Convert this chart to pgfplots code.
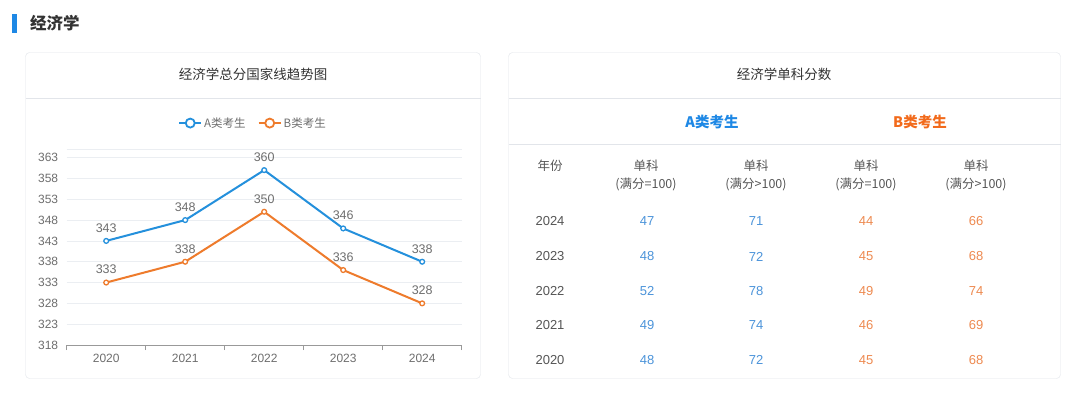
\documentclass[border=0pt]{standalone}
\usepackage{pgfplots}
\pgfplotsset{compat=1.18}
\usepackage{fontspec}
\setmainfont{Liberation Sans}
\newfontfamily\cjk{Noto Sans CJK SC}
\definecolor{ablue}{HTML}{2490DC}
\definecolor{borange}{HTML}{EE7B2C}
\definecolor{tblue}{HTML}{4C94DA}
\definecolor{torange}{HTML}{EE8A50}
\definecolor{hblue}{HTML}{1E88E5}
\definecolor{horange}{HTML}{F26A1B}
\definecolor{c333}{HTML}{333333}
\definecolor{c555}{HTML}{555555}
\definecolor{c666}{HTML}{6E6E6E}
\definecolor{axisgray}{HTML}{999999}
\definecolor{gridgray}{HTML}{EBEEF2}
\definecolor{cardborder}{HTML}{E2E5EA}
\pgfplotstableread{
x A B
0 343 333
1 348 338
2 360 350
3 346 336
4 338 328
}\totaldata
\begin{document}
\begin{tikzpicture}[x=1pt,y=1pt]
\fill[white] (0,0) rectangle (1080,-392);
\path[use as bounding box] (0,0) rectangle (1080,-392);
% page title
\fill[hblue] (12,-14) rectangle (17,-33);
\node[anchor=west, font=\cjk\bfseries\fontsize{16.5}{20}\selectfont, text=c333, inner sep=0pt] at (30,-23.5) {经济学};
% left card
\draw[cardborder, rounded corners=4pt, fill=white] (25.5,-52.5) rectangle (480.5,-378.5);
\draw[cardborder] (25.5,-98.5) -- (480.5,-98.5);
\node[font=\cjk\fontsize{13.5}{16}\selectfont, text=c333] at (253,-74.5) {经济学总分国家线趋势图};
% right card
\draw[cardborder, rounded corners=4pt, fill=white] (508.5,-52.5) rectangle (1060.5,-378.5);
\draw[cardborder] (508.5,-98.5) -- (1060.5,-98.5);
\draw[cardborder] (508.5,-144.5) -- (1060.5,-144.5);
\node[font=\cjk\fontsize{13.5}{16}\selectfont, text=c333] at (784,-74.5) {经济学单科分数};
\node[font=\cjk\bfseries\fontsize{14.5}{17}\selectfont, text=hblue] at (712,-121.5) {A类考生};
\node[font=\cjk\bfseries\fontsize{14.5}{17}\selectfont, text=horange] at (920,-121.5) {B类考生};
% column headers
\node[font=\cjk\fontsize{12.5}{15}\selectfont, text=c555] at (550,-166) {年份};
\foreach \cx/\lab in {646/{(满分=100)}, 756/{(满分>100)}, 866/{(满分=100)}, 976/{(满分>100)}}{
  \node[font=\cjk\fontsize{12.5}{15}\selectfont, text=c555] at (\cx,-166) {单科};
  \node[font=\cjk\fontsize{12.5}{15}\selectfont, text=c555] at (\cx,-184) {\lab};
}
% rows
\foreach \yy/\yr/\a/\b/\c/\d in {221.5/2024/47/71/44/66, 256.5/2023/48/72/45/68, 291/2022/52/78/49/74, 325.5/2021/49/74/46/69, 360/2020/48/72/45/68}{
  \node[font=\fontsize{13}{15}\selectfont, text=c555] at (550,-\yy) {\yr};
  \node[font=\fontsize{13}{15}\selectfont, text=tblue] at (647,-\yy) {\a};
  \node[font=\fontsize{13}{15}\selectfont, text=tblue] at (756,-\yy) {\b};
  \node[font=\fontsize{13}{15}\selectfont, text=torange] at (866,-\yy) {\c};
  \node[font=\fontsize{13}{15}\selectfont, text=torange] at (976,-\yy) {\d};
}
% chart
\begin{axis}[
  at={(66.7pt,-345pt)}, anchor=south west,
  scale only axis, width=395pt, height=195.7pt,
  xmin=-0.5, xmax=4.5, ymin=318, ymax=365,
  ytick={318,323,...,363},
  extra y ticks={365}, extra y tick labels={},
  extra y tick style={grid=major, major tick length=0pt},
  xtick={0,1,2,3,4},
  xticklabels={2020,2021,2022,2023,2024},
  minor xtick={-0.5,0.5,1.5,2.5,3.5,4.5},
  axis x line*=bottom, axis y line*=left,
  y axis line style={draw=none},
  x axis line style={draw=axisgray, line width=0.9pt, -},
  major tick length=0pt,
  minor tick length=5pt,
  tick align=outside,
  minor tick style={draw=axisgray, line width=0.9pt},
  ymajorgrids, grid style={gridgray, line width=0.8pt},
  ticklabel style={font=\fontsize{12}{14}\selectfont, text=c666},
  yticklabel style={xshift=-5pt},
  xticklabel style={yshift=-6pt},
  /pgf/number format/assume math mode=true,
  /pgf/number format/1000 sep={},
  legend style={at={(0.4717,1.134)}, anchor=center, draw=none, fill=none,
    font=\cjk\fontsize{11.5}{14}\selectfont, text=c666,
    /tikz/every even column/.append style={column sep=10pt}},
  legend columns=2,
  nodes near coords,
  every node near coord/.append style={font=\fontsize{12.5}{14}\selectfont, text=c666, yshift=4.5pt},
  clip=false,
]
\addplot[ablue, line width=2pt, mark=*, mark size=2.4pt, mark options={fill=white, line width=1.3pt},
  legend image code/.code={\draw[ablue,line width=2pt] (0pt,0pt)--(22pt,0pt); \draw[ablue,line width=1.8pt,fill=white] (11pt,0pt) circle (4.5pt);}]
  table[x=x, y=A] {\totaldata};
\addlegendentry{A类考生}
\addplot[borange, line width=2pt, mark=*, mark size=2.4pt, mark options={fill=white, line width=1.3pt},
  legend image code/.code={\draw[borange,line width=2pt] (0pt,0pt)--(22pt,0pt); \draw[borange,line width=1.8pt,fill=white] (11pt,0pt) circle (4.5pt);}]
  table[x=x, y=B] {\totaldata};
\addlegendentry{B类考生}
\end{axis}
\end{tikzpicture}
\end{document}
